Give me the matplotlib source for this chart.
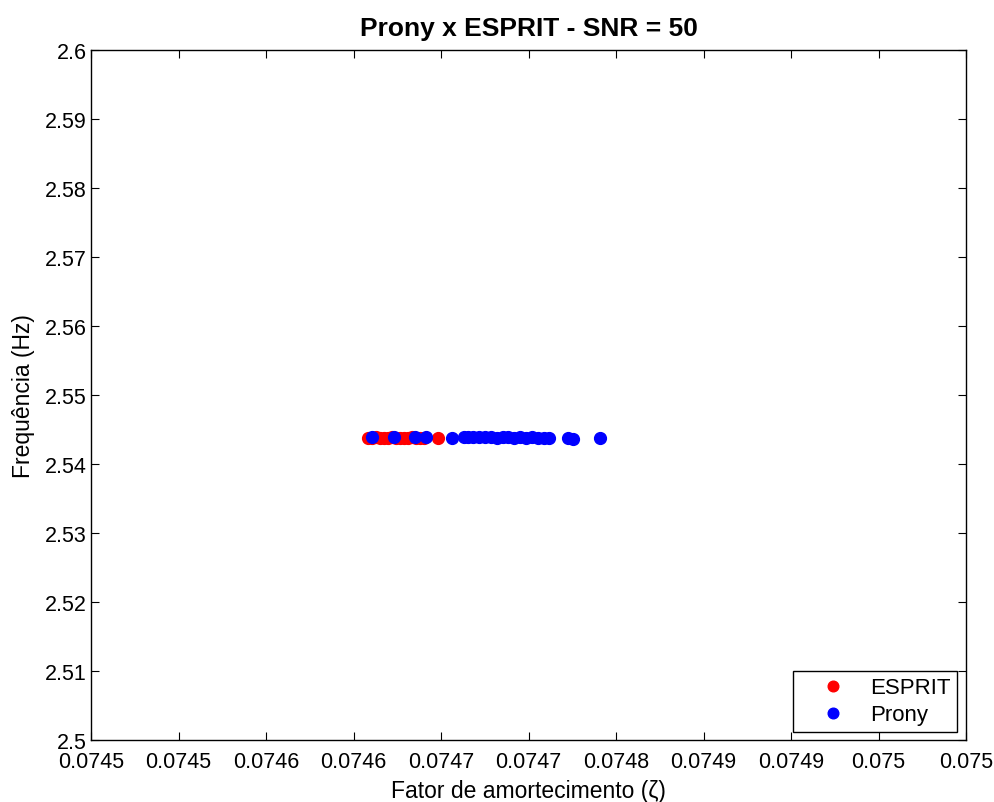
"""
Prony x ESPRIT comparison of the estimated mode (damping factor vs frequency)
for SNR = 50.
"""

import matplotlib
matplotlib.use("Agg")
import matplotlib.pyplot as plt
from matplotlib.ticker import FuncFormatter, MultipleLocator

plt.rcParams["font.family"] = ["Liberation Sans", "DejaVu Sans"]

# estimated damping factor and frequency for each run
esprit_zeta = [0.0746457, 0.0746482, 0.0746508, 0.0746533, 0.0746559,
	0.0746584, 0.0746609, 0.0746635, 0.0746660, 0.0746685, 0.0746711,
	0.0746736, 0.0746762, 0.0746787, 0.0746812, 0.0746901]
esprit_freq = [2.54384, 2.54384, 2.54386, 2.54384, 2.54382, 2.54384,
	2.54386, 2.54384, 2.54384, 2.54382, 2.54384, 2.54386, 2.54384,
	2.54384, 2.54382, 2.54384]

prony_zeta = [0.0746482, 0.0746622, 0.0746755, 0.0746825, 0.0746990,
	0.0747066, 0.0747091, 0.0747123, 0.0747161, 0.0747199, 0.0747237,
	0.0747275, 0.0747313, 0.0747345, 0.0747383, 0.0747421, 0.0747459,
	0.0747497, 0.0747535, 0.0747573, 0.0747605, 0.0747726, 0.0747757,
	0.0747929]
prony_freq = [2.54390, 2.54388, 2.54386, 2.54396, 2.54384, 2.54386,
	2.54390, 2.54394, 2.54386, 2.54398, 2.54386, 2.54382, 2.54390,
	2.54386, 2.54384, 2.54386, 2.54384, 2.54390, 2.54384, 2.54380,
	2.54372, 2.54382, 2.54368, 2.54380]

x_first_tick = 0.07447
x_tick_step = 0.0000555
n_xticks = 11


def zeta_label(v, pos):
	return ("%.4f" % v).rstrip("0")


def main():
	fig = plt.figure(figsize = (9.95, 8.03), dpi = 100)
	ax = fig.add_axes([0.0915, 0.0772, 0.8794, 0.8593])

	ax.plot(esprit_zeta, esprit_freq, "o", color = "#ff0000", ms = 8.5,
		mec = "#ff0000", label = "ESPRIT")
	ax.plot(prony_zeta, prony_freq, "o", color = "#0000ff", ms = 8.5,
		mec = "#0000ff", label = "Prony")

	xticks = [x_first_tick + i * x_tick_step for i in range(n_xticks)]
	ax.set_xlim(xticks[0], xticks[-1])
	ax.set_xticks(xticks)
	ax.xaxis.set_major_formatter(FuncFormatter(zeta_label))
	ax.set_ylim(2.5, 2.6)
	ax.yaxis.set_major_locator(MultipleLocator(0.01))
	ax.yaxis.set_major_formatter(FuncFormatter(lambda v, p: "%g" % round(v, 2)))

	ax.tick_params(direction = "in", length = 6, width = 0.8,
		top = True, right = True, labelsize = 15.5, pad = 3, colors = "black")
	ax.tick_params(axis = "x", pad = 8)
	for s in ax.spines.values():
		s.set_linewidth(1.0)

	ax.set_title("Prony x ESPRIT - SNR = 50", fontsize = 19,
		fontweight = "bold", pad = 10.5)
	ax.set_xlabel("Fator de amortecimento (ζ)", fontsize = 16.5,
		labelpad = 5)
	ax.set_ylabel("Frequência (Hz)", fontsize = 16.5, labelpad = 7)

	leg = ax.legend(loc = "lower right", bbox_to_anchor = (0.9897, 0.0116),
		borderaxespad = 0, fontsize = 16, fancybox = False, framealpha = 1,
		edgecolor = "black", handlelength = 3.0, handletextpad = 0.15,
		borderpad = 0.3, labelspacing = 0.27, numpoints = 1,
		markerscale = 0.9)
	leg.get_frame().set_linewidth(1.0)

	fig.savefig("out.png", dpi = 100)


if __name__ == "__main__":
	main()
